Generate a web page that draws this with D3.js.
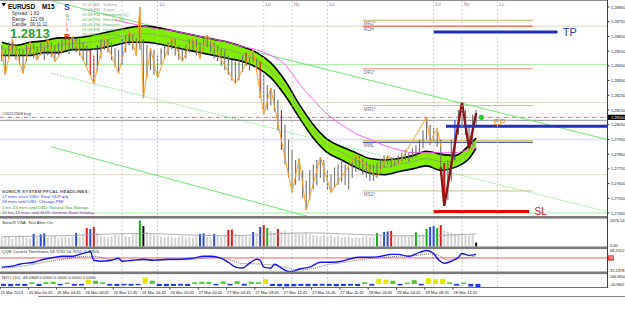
<!DOCTYPE html>
<html>
<head>
<meta charset="utf-8">
<script src="https://cdn.jsdelivr.net/npm/d3@7"></script>
<style>
body { margin: 0; background: #fff; }
svg { display: block; font-family: "Liberation Sans", Arial, sans-serif; }
</style>
</head>
<body>
<svg width="625" height="309"></svg>
<script>
// ---------- data ----------
var priceTicks = [1.2885, 1.2875, 1.2865, 1.2855, 1.2845, 1.2835, 1.2825, 1.2815, 1.2805, 1.2795, 1.2785, 1.2775, 1.2765, 1.2755, 1.2745];
var lastPrice = 1.2810;

var timeLabels = ["25 Mar 2013", "26 Mar 00:45", "26 Mar 04:45", "26 Mar 08:45", "26 Mar 12:45", "26 Mar 16:45", "26 Mar 20:45",
  "27 Mar 00:45", "27 Mar 04:45", "27 Mar 08:45", "27 Mar 12:45", "27 Mar 16:45", "27 Mar 20:45",
  "28 Mar 00:45", "28 Mar 04:45", "28 Mar 08:45", "28 Mar 12:45"];

var sessionTimes = ["26 Mar 10:00", "26 Mar 14:00", "26 Mar 19:00", "27 Mar 10:00", "27 Mar 14:00", "27 Mar 19:00", "28 Mar 10:00", "28 Mar 14:00", "28 Mar 19:00"];
var sessionNames = ["Lo", "Ny", "Lc", "Lo", "Ny", "Lc", "Lo", "Ny", "Lc"];

// 30 minute bars, index 0 = 25 Mar 21:00
var barHigh = [1.2859,1.2856,1.2861,1.2863,1.2859,1.2857,1.2856,1.2859,1.2861,1.2860,
  1.2858,1.2861,1.2860,1.2863,1.2861,1.2859,1.2861,1.2863,1.2864,1.2863,
  1.2865,1.2864,1.2863,1.2861,1.2859,1.2856,1.2852,1.2859,1.2863,1.2864,
  1.2863,1.2861,1.2857,1.2856,1.2863,1.2866,1.2869,1.2866,1.2864,1.2885,
  1.2863,1.2859,1.2857,1.2856,1.2852,1.2857,1.2859,1.2861,1.2864,1.2863,
  1.2859,1.2857,1.2859,1.2863,1.2864,1.2863,1.2861,1.2864,1.2866,1.2864,
  1.2861,1.2859,1.2857,1.2856,1.2852,1.2849,1.2848,1.2849,1.2852,1.2854,
  1.2852,1.2856,1.2850,1.2848,1.2839,1.2832,1.2830,1.2829,1.2822,1.2815,
  1.2805,1.2795,1.2788,1.2781,1.2782,1.2774,1.2767,1.2774,1.2778,1.2781,
  1.2783,1.2781,1.2774,1.2771,1.2776,1.2778,1.2781,1.2778,1.2776,1.2781,
  1.2784,1.2784,1.2782,1.2780,1.2778,1.2778,1.2779,1.2782,1.2784,1.2784,
  1.2783,1.2782,1.2784,1.2786,1.2788,1.2786,1.2789,1.2791,1.2795,1.2801,
  1.2810,1.2805,1.2803,1.2801,1.2795,1.2779,1.2781,1.2795,1.2808,1.2815,
  1.2820,1.2815,1.2805,1.2812,1.2815];
var barLow = [1.2848,1.2839,1.2850,1.2852,1.2849,1.2846,1.2840,1.2848,1.2852,1.2850,
  1.2849,1.2852,1.2849,1.2852,1.2851,1.2848,1.2852,1.2854,1.2856,1.2853,
  1.2856,1.2854,1.2852,1.2849,1.2845,1.2839,1.2833,1.2842,1.2850,1.2856,
  1.2854,1.2849,1.2844,1.2840,1.2846,1.2854,1.2859,1.2856,1.2852,1.2856,
  1.2823,1.2837,1.2842,1.2839,1.2837,1.2846,1.2850,1.2852,1.2856,1.2852,
  1.2849,1.2848,1.2850,1.2854,1.2856,1.2852,1.2850,1.2856,1.2858,1.2854,
  1.2850,1.2848,1.2845,1.2842,1.2839,1.2835,1.2833,1.2835,1.2841,1.2845,
  1.2842,1.2848,1.2841,1.2823,1.2812,1.2815,1.2818,1.2814,1.2801,1.2788,
  1.2778,1.2769,1.2759,1.2764,1.2767,1.2755,1.2747,1.2754,1.2761,1.2764,
  1.2769,1.2766,1.2761,1.2759,1.2762,1.2764,1.2766,1.2764,1.2761,1.2769,
  1.2773,1.2774,1.2771,1.2769,1.2767,1.2767,1.2769,1.2773,1.2776,1.2778,
  1.2776,1.2777,1.2778,1.2780,1.2781,1.2780,1.2782,1.2783,1.2786,1.2789,
  1.2795,1.2791,1.2793,1.2790,1.2771,1.2750,1.2754,1.2767,1.2781,1.2798,
  1.2805,1.2798,1.2789,1.2791,1.2805];
var barRed = [25, 26, 69, 73, 79, 125];
var barBlue = [27, 34, 36, 128];

var zigzagBar = [0,1,3,6,8,10,13,15,20,26,29,33,36,38,39,40,42,44,48,51,54,56,58,66,71,74,76,82,84,86,90,93,100,106,109,112,120,121,123,124];
var zigzagPrice = [1.2856,1.2839,1.2863,1.2840,1.2861,1.2849,1.2863,1.2848,1.2865,1.2833,1.2864,1.2840,1.2869,1.2852,1.2885,1.2823,1.2857,1.2837,1.2864,1.2848,
  1.2864,1.2850,1.2866,1.2833,1.2856,1.2812,1.2830,1.2759,1.2782,1.2747,1.2783,1.2759,1.2784,1.2769,1.2784,1.2778,1.2810,1.2793,1.2803,1.2790];
var swingBar = [124, 125, 130, 132, 134];
var swingPrice = [1.2776, 1.2750, 1.2820, 1.2789, 1.2813];

var ribbonBar = [0,4,8,12,16,20,24,28,32,36,40,44,48,52,56,60,64,68,72,76,80,84,88,92,96,100,104,108,112,116,120,124,128,132,134];
var ribbonHigh = [1.2861,1.2859,1.2861,1.2862,1.2864,1.2864,1.2865,1.2867,1.2869,1.2871,1.2872,1.2871,1.2869,1.2867,1.2865,1.2863,1.2861,1.2858,
  1.2854,1.2847,1.2835,1.2819,1.2805,1.2795,1.2790,1.2786,1.2782,1.2781,1.2782,1.2784,1.2787,1.2785,1.2784,1.2791,1.2796];
var ribbonLow = [1.2852,1.2852,1.2852,1.2854,1.2854,1.2856,1.2856,1.2857,1.2859,1.2861,1.2861,1.2860,1.2858,1.2856,1.2854,1.2852,1.2850,1.2848,
  1.2844,1.2837,1.2825,1.2810,1.2796,1.2786,1.2781,1.2776,1.2772,1.2771,1.2773,1.2775,1.2777,1.2774,1.2776,1.2782,1.2789];
var ribbonMid = [1.2857,1.2856,1.2857,1.2858,1.2859,1.2860,1.2861,1.2862,1.2864,1.2866,1.2867,1.2866,1.2864,1.2862,1.2860,1.2858,1.2856,1.2853,
  1.2849,1.2842,1.2830,1.2815,1.2801,1.2791,1.2786,1.2781,1.2777,1.2776,1.2778,1.2780,1.2782,1.2780,1.2780,1.2787,1.2793];

var slowMaBar = [32,36,40,44,48,52,56,60,64,68,72,76,80,84,88,92,96,100,104,108,112,116,120,124,128,132,134];
var slowMaPrice = [1.2876,1.2874,1.2872,1.2870,1.2869,1.2867,1.2865,1.2863,1.2861,1.2858,1.2856,1.2852,1.2846,1.2833,1.2822,1.2812,1.2805,1.2799,
  1.2795,1.2791,1.2788,1.2786,1.2786,1.2786,1.2786,1.2788,1.2789];

// horizontal levels
var dayLevels = [1.2872, 1.2846, 1.2820, 1.2795, 1.2771, 1.2745];
var orderPrice = 1.2810, bidPrice = 1.2808;
var pivotNames = ["MR2*", "RDH", "DR1*", "MR1*", "MML", "MS1*"];
var pivotPrices = [1.2876, 1.2872, 1.2843, 1.2818, 1.2793, 1.2760];
var midLinePrice = 1.2794;
var tradeNames = ["TP", "EP", "SL"];
var tradePrices = [1.2868, 1.2804, 1.2746];
var tradeFrom = ["28 Mar 10:00", "28 Mar 11:45", "28 Mar 10:00"];
var tradeTo = ["29 Mar 03:30", "29 Mar 12:00", "28 Mar 23:30"];
var tradeLabelAt = ["29 Mar 04:15", "28 Mar 18:30", "29 Mar 00:15"];
var signalTime = "28 Mar 16:45", signalPrice = 1.2810;

// trend channel: [from, to]
var trendTimes = [["26 Mar 02:30", "29 Mar 10:30"], ["26 Mar 04:00", "29 Mar 10:30"], ["26 Mar 04:00", "27 Mar 16:45"]];
var trendPrices = [[1.2891, 1.2795], [1.2840, 1.2746], [1.2790, 1.2742]];

// SonicR VSA volume per bar
var volume = [900,1100,1000,800,950,1200,1050,900,850,1300, 950,1250,1350,900,1000,1100,850,950,1000,900,
  1050,1400,1000,1150,1900,1800,2000,1400,1100,1000, 950,1050,1200,1150,1300,1100,1000,1250,1400,2676,
  2100,1500,1300,1200,1100,1000,950,1050,1000,900, 1000,1100,950,1000,900,1050,1300,1350,1000,950,
  1300,1100,1000,1200,1700,1750,1300,1200,1100,1050, 1000,1500,1200,2000,2200,1900,1600,1400,1800,1500,
  1600,1400,1500,1300,1350,1300,1400,1250,1200,1150, 1100,1200,1050,1150,1000,1100,950,1000,1050,900,
  950,900,1000,1050,950,1000,1400,1100,1500,1550, 1600,1100,1000,1050,1100,1000,1150,1450,1200,1250,
  1800,2000,2100,1900,2200,1700,1500,1400,1300,1250, 1350,1200,1150,1250,400];
var volBlue = [9,11,12,21,25,56,57,60,71,73,108,109,121,122];
var volRed = [24,26,64,65,74,78,110,124];
var volGreen = [39,75,106,117,120,123];
var volBlack = [40,134];
var volAvgBar = [0,8,16,24,32,40,48,56,64,72,80,88,96,104,112,120,128,134];
var volAvg = [1000,1050,1100,1200,1300,1350,1250,1150,1100,1200,1350,1400,1300,1200,1100,1100,1200,1300];

// QQE
var qqeBar = [0,3,5,9,12,15,17,20,22,24,25,26,28,31,33,34,37,40,43,47,50,54,57,59,62,64,66,68,70,72,
  73,74,76,77,79,81,82,84,87,90,93,96,98,101,104,107,110,112,115,118,120,122,123,125,127,129,130,132,134];
var qqeFast = [37.0,38.3,41.1,43.9,48.1,50.9,52.3,52.3,55.0,57.8,59.2,46.7,45.3,46.7,49.5,45.3,46.7,48.1,46.7,48.1,
  48.1,49.5,52.3,52.3,49.5,43.9,37.0,35.6,42.5,48.1,46.7,37.0,35.6,41.1,35.6,30.8,30.8,34.2,37.0,43.9,
  43.9,45.3,48.1,50.9,50.9,52.3,55.0,55.0,52.3,57.8,60.6,56.4,49.5,42.5,45.3,50.9,56.4,53.7,55.0];
var qqeSlowBar = [0,6,12,18,24,27,30,36,42,48,54,60,64,68,72,76,80,84,88,92,96,100,104,108,112,116,120,123,126,130,134];
var qqeSlow = [35.5,38.5,44.0,48.5,52.5,52.0,48.0,46.5,46.5,47.0,48.0,50.5,48.0,42.0,41.5,40.0,36.5,33.0,35.0,40.5,
  43.0,46.5,49.0,50.5,52.5,53.0,55.5,54.5,47.0,49.5,52.5];
var qqeLevel = 50;

// NVO per hour, index 0 = 25 Mar 20:45
var nvo = [-40,-45,-35,-40,30,-40,35,40,-30,25,-35,-30,80,60,30,-35,-40,-30,-35,-25,
  120,60,-40,-45,-40,-35,-40,30,40,35,-30,45,-30,50,-35,40,30,90,-40,-45,
  -50,-45,-40,-45,-40,-35,-40,-45,-40,-35,-40,30,-35,100,80,60,-30,25,70,-30,
  110,90,100,30,-35,25,-50,-60];

var clockTimes = ["12:48 AM", "10:48 PM", "09:48 PM", "03:48 PM", "02:48 PM", "01:48 PM", "08:48 AM"];
var clockCities = ["Sydney", "Tokyo", "Hongkong (L)", "Helsinki (B)", "Frankfurt", "London (O)", "NewYork"];
var headlines = ["17 mins since USD: Final GDP q/q", "58 mins until USD: Chicago PMI",
  "1 hrs 43 mins until USD: Natural Gas Storage", "15 hrs 13 mins until EUR: German Bank Holiday"];

// ---------- scales ----------
var svg = d3.select("svg");
var plotRight = 607;
var parseT = d3.timeParse("%Y %d %b %H:%M");
function T(s) { return parseT("2013 " + s); }
var t0 = new Date(2013, 2, 25, 20, 45);
function barTime(i) { return d3.timeMinute.offset(t0, i * 30 + 15); }

var x = d3.scaleTime().domain([t0, d3.timeHour.offset(t0, 72)]).range([0, 72 * 7.08]);
var y = d3.scaleLinear().domain([priceTicks[priceTicks.length - 1], priceTicks[0]]).range([213, 7]);
var yVol = d3.scaleLinear().domain([0, 2676.53]).range([246.5, 220.5]);
var yQqe = d3.scaleLinear().domain([30, 62]).range([272, 249.5]);
var yNvo = d3.scaleLinear().domain([-60, 170]).range([287, 275]);

var defs = svg.append("defs");
defs.append("clipPath").attr("id", "clipMain").append("rect")
  .attr("x", 0).attr("y", 1).attr("width", plotRight).attr("height", 215.5);
defs.append("clipPath").attr("id", "clipAll").append("rect")
  .attr("x", 0).attr("y", 0).attr("width", plotRight).attr("height", 288);

var main = svg.append("g").attr("clip-path", "url(#clipMain)");

// session lines across all panes
var sess = svg.append("g").attr("clip-path", "url(#clipAll)");
sess.selectAll("line").data(sessionTimes).enter().append("line")
  .attr("x1", function(d) { return x(T(d)); })
  .attr("x2", function(d) { return x(T(d)); })
  .attr("y1", 1).attr("y2", 287)
  .attr("stroke", "#c4c4c4").attr("stroke-width", 0.8).attr("stroke-dasharray", "2,2");

// full width day levels
var dayColor = ["#dcd8c4", "#a6f0a0", "#dcd8c4", "#e4e4f8", "#dcd8c4", "#a6f0a0"];
var dayWidth = [1, 1, 1, 2, 1, 1];
main.selectAll(".day").data(dayLevels).enter().append("line")
  .attr("x1", 0).attr("x2", plotRight)
  .attr("y1", function(d) { return y(d); }).attr("y2", function(d) { return y(d); })
  .attr("stroke", function(d, i) { return dayColor[i]; })
  .attr("stroke-width", function(d, i) { return dayWidth[i]; });

main.append("line").attr("x1", 0).attr("x2", plotRight)
  .attr("y1", y(bidPrice)).attr("y2", y(bidPrice))
  .attr("stroke", "#a8a8a8").attr("stroke-width", 1.3);
main.append("line").attr("x1", 0).attr("x2", plotRight)
  .attr("y1", y(orderPrice)).attr("y2", y(orderPrice))
  .attr("stroke", "#e05a5a").attr("stroke-width", 0.9).attr("stroke-dasharray", "4,1.5,1,1.5");

// trend channel
trendTimes.forEach(function(tt, k) {
  main.append("line")
    .attr("x1", x(T(tt[0]))).attr("y1", y(trendPrices[k][0]))
    .attr("x2", x(T(tt[1]))).attr("y2", y(trendPrices[k][1]))
    .attr("stroke", "#5ee65e").attr("stroke-width", 0.9)
    .attr("stroke-dasharray", k == 1 ? "1.5,1.5" : null);
});

// pivot lines for today
var pivotColor = { "MR2*": "#bdb76b", "RDH": "#ff3b2f", "DR1*": "#f38a78", "MR1*": "#c8c08c", "MML": "#3340d0", "MS1*": "#c8c08c" };
var pivFrom = x(T("28 Mar 00:00")), pivTo = x(T("29 Mar 00:00"));
main.selectAll(".piv").data(pivotPrices).enter().append("line")
  .attr("x1", pivFrom).attr("x2", pivTo)
  .attr("y1", function(d) { return y(d); }).attr("y2", function(d) { return y(d); })
  .attr("stroke", function(d, i) { return pivotColor[pivotNames[i]]; })
  .attr("stroke-width", 1);
main.append("line").attr("x1", pivFrom).attr("x2", pivTo)
  .attr("y1", y(midLinePrice)).attr("y2", y(midLinePrice))
  .attr("stroke", "#c8b400").attr("stroke-width", 1);
main.selectAll(".pivlab").data(pivotPrices).enter().append("text")
  .attr("x", pivFrom + 1).attr("y", function(d) { return y(d) + 5; })
  .attr("font-size", 4.6).attr("fill", "#707070")
  .text(function(d, i) { return pivotNames[i]; });

// SonicR dragon ribbon
var rib = d3.zip(ribbonBar, ribbonHigh, ribbonLow, ribbonMid);
main.append("path").datum(rib)
  .attr("d", d3.area().curve(d3.curveMonotoneX)
    .x(function(d) { return x(barTime(d[0])); })
    .y0(function(d) { return y(d[2]); })
    .y1(function(d) { return y(d[1]); }))
  .attr("fill", "#80f000");
main.append("path").datum(rib)
  .attr("d", d3.line().curve(d3.curveMonotoneX)
    .x(function(d) { return x(barTime(d[0])); }).y(function(d) { return y(d[3]); }))
  .attr("fill", "none").attr("stroke", "#8c9c8c").attr("stroke-width", 0.8);
[1, 2].forEach(function(k) {
  main.append("path").datum(rib)
    .attr("d", d3.line().curve(d3.curveMonotoneX)
      .x(function(d) { return x(barTime(d[0])); }).y(function(d) { return y(d[k]); }))
    .attr("fill", "none").attr("stroke", "#000").attr("stroke-width", 1.6);
});

// slow MA
main.append("path").datum(d3.zip(slowMaBar, slowMaPrice))
  .attr("d", d3.line().curve(d3.curveMonotoneX)
    .x(function(d) { return x(barTime(d[0])); }).y(function(d) { return y(d[1]); }))
  .attr("fill", "none").attr("stroke", "#ff50ff").attr("stroke-width", 0.9);

// price bars
main.selectAll(".bar").data(d3.range(barHigh.length)).enter().append("line")
  .attr("x1", function(i) { return x(barTime(i)); })
  .attr("x2", function(i) { return x(barTime(i)); })
  .attr("y1", function(i) { return y(barHigh[i]); })
  .attr("y2", function(i) { return y(barLow[i]); })
  .attr("stroke", function(i) {
    if (barRed.indexOf(i) >= 0) return "#d01010";
    if (barBlue.indexOf(i) >= 0) return "#2040e0";
    return "#707070";
  })
  .attr("stroke-width", function(i) { return i == 125 ? 2 : 1.1; });

// zigzag
main.append("path").datum(d3.zip(zigzagBar, zigzagPrice))
  .attr("d", d3.line().x(function(d) { return x(barTime(d[0])); }).y(function(d) { return y(d[1]); }))
  .attr("fill", "none").attr("stroke", "#ffa020").attr("stroke-width", 1);
main.append("path").datum(d3.zip(swingBar, swingPrice))
  .attr("d", d3.line().x(function(d) { return x(barTime(d[0])); }).y(function(d) { return y(d[1]); }))
  .attr("fill", "none").attr("stroke", "#8e1414").attr("stroke-width", 2.4).attr("stroke-linejoin", "miter");

// trade levels
var tradeColor = { "TP": "#2030b8", "EP": "#2030b8", "SL": "#e80000" };
var tradeLabelColor = { "TP": "#2a40c8", "EP": "#f08a20", "SL": "#e81010" };
var tradeFont = { "TP": 11, "EP": 9, "SL": 10 };
var tradeShift = { "TP": 4, "EP": -1.5, "SL": 3.6 };
tradeNames.forEach(function(n, k) {
  main.append("line")
    .attr("x1", x(T(tradeFrom[k]))).attr("x2", Math.min(plotRight, x(T(tradeTo[k]))))
    .attr("y1", y(tradePrices[k])).attr("y2", y(tradePrices[k]))
    .attr("stroke", tradeColor[n]).attr("stroke-width", 3);
  main.append("text")
    .attr("x", x(T(tradeLabelAt[k]))).attr("y", y(tradePrices[k]) + tradeShift[n])
    .attr("font-size", tradeFont[n]).attr("fill", tradeLabelColor[n])
    .text(n);
});
main.append("circle").attr("cx", x(T(signalTime))).attr("cy", y(signalPrice)).attr("r", 2.6)
  .attr("fill", "#1ed21e");

// order label
main.append("text").attr("x", 2).attr("y", y(orderPrice) - 2).attr("font-size", 4.2).attr("fill", "#404040")
  .text("#26222568 buy");

// session names on top
sess.selectAll("text").data(sessionTimes).enter().filter(function(d) { return x(T(d)) > 140; })
  .append("text")
  .attr("x", function(d) { return x(T(d)) + 2; }).attr("y", 6)
  .attr("font-size", 4.6).attr("fill", "#8a8a8a")
  .text(function(d) { return sessionNames[sessionTimes.indexOf(d)]; });

// ---------- info block ----------
var info = svg.append("g");
info.append("path").attr("d", "M1.5,3 L6,3 L3.75,6.5 Z").attr("fill", "#000");
info.append("text").attr("x", 8).attr("y", 9).attr("font-size", 7).attr("font-weight", "bold")
  .attr("textLength", 27).attr("lengthAdjust", "spacingAndGlyphs").text("EURUSD");
info.append("text").attr("x", 42).attr("y", 9).attr("font-size", 7).attr("font-weight", "bold")
  .attr("textLength", 12.5).attr("lengthAdjust", "spacingAndGlyphs").text("M15");
[["Spread", "1.80"], ["Range", "121.68"], ["Candle", "00:11:11"]].forEach(function(r, k) {
  info.append("text").attr("x", 12).attr("y", 15 + k * 5.6).attr("font-size", 4.6).attr("fill", "#303030").text(r[0]);
  info.append("text").attr("x", 30).attr("y", 15 + k * 5.6).attr("font-size", 4.6).attr("fill", "#303030").text(r[1]);
});
info.append("text").attr("x", 10).attr("y", 38).attr("font-size", 13).attr("font-weight", "bold")
  .attr("fill", "#2f9e2f").text("1.2813");
info.append("text").attr("x", 64).attr("y", 10).attr("font-size", 8.5).attr("font-weight", "bold").attr("fill", "#1f3fc0").text("S");
[["o", "#3a9a3a"], ["n", "#9a9a9a"], ["i", "#d03030"], ["c", "#d03030"]].forEach(function(r, k) {
  info.append("text").attr("x", 66).attr("y", 16.5 + k * 4.8).attr("font-size", 5).attr("fill", r[1]).text(r[0]);
});
info.append("text").attr("x", 64).attr("y", 40).attr("font-size", 8.5).attr("font-weight", "bold").attr("fill", "#e01a1a").text("R");
clockTimes.forEach(function(t, k) {
  var c = k < 2 ? "#a4a4a4" : "#62b862";
  info.append("text").attr("x", 82).attr("y", 5.8 + k * 5).attr("font-size", 4.2).attr("fill", c).text(t);
  info.append("text").attr("x", 103).attr("y", 5.8 + k * 5).attr("font-size", 4.2).attr("fill", c).text(clockCities[k]);
});

// headlines
svg.append("text").attr("x", 2).attr("y", 192.5).attr("font-size", 4.4).attr("font-weight", "bold")
  .attr("fill", "#505050").attr("letter-spacing", 0.25).text("SONICR SYSTEM FFCAL HEADLINES:");
var headColor = ["#3636e8", "#3636e8", "#2fa02f", "#a030c8"];
headlines.forEach(function(h, k) {
  svg.append("text").attr("x", 2).attr("y", 198 + k * 5.3).attr("font-size", 4.3).attr("fill", headColor[k]).text(h);
});

// ---------- VSA pane ----------
var vsa = svg.append("g");
vsa.selectAll("rect").data(d3.range(volume.length)).enter().append("rect")
  .attr("x", function(i) { return x(barTime(i)) - 1; })
  .attr("width", 2)
  .attr("y", function(i) { return yVol(volume[i]); })
  .attr("height", function(i) { return yVol(0) - yVol(volume[i]); })
  .attr("fill", function(i) {
    if (volBlue.indexOf(i) >= 0) return "#2a46e8";
    if (volRed.indexOf(i) >= 0) return "#e01818";
    if (volGreen.indexOf(i) >= 0) return "#12b012";
    if (volBlack.indexOf(i) >= 0) return "#000";
    return "#d2d2d2";
  });
vsa.append("path").datum(d3.zip(volAvgBar, volAvg))
  .attr("d", d3.line().curve(d3.curveMonotoneX)
    .x(function(d) { return x(barTime(d[0])); }).y(function(d) { return yVol(d[1]); }))
  .attr("fill", "none").attr("stroke", "#9a9a9a").attr("stroke-width", 0.8);
vsa.append("text").attr("x", 2).attr("y", 223.8).attr("font-size", 4.3).attr("fill", "#303030").text("SonicR VSA");
vsa.append("text").attr("x", 28).attr("y", 223.8).attr("font-size", 4.3).attr("fill", "#303030").text("Test Alert On.");

// ---------- QQE pane ----------
var qqe = svg.append("g");
qqe.append("line").attr("x1", 0).attr("x2", plotRight).attr("y1", yQqe(qqeLevel)).attr("y2", yQqe(qqeLevel))
  .attr("stroke", "#f03a3a").attr("stroke-width", 0.8);
qqe.append("path").datum(d3.zip(qqeSlowBar, qqeSlow))
  .attr("d", d3.line().curve(d3.curveMonotoneX)
    .x(function(d) { return x(barTime(d[0])); }).y(function(d) { return yQqe(d[1]); }))
  .attr("fill", "none").attr("stroke", "#505050").attr("stroke-width", 0.8).attr("stroke-dasharray", "1,1");
qqe.append("path").datum(d3.zip(qqeBar, qqeFast))
  .attr("d", d3.line().curve(d3.curveMonotoneX)
    .x(function(d) { return x(barTime(d[0])); }).y(function(d) { return yQqe(d[1]); }))
  .attr("fill", "none").attr("stroke", "#1414f0").attr("stroke-width", 1.4);
qqe.append("text").attr("x", 2).attr("y", 252.8).attr("font-size", 4.3).attr("fill", "#303030")
  .text("QQE Current Timeframe 58.7292 54.7052 (1.4960)");

// ---------- NVO pane ----------
var nv = svg.append("g");
nv.selectAll("rect").data(nvo).enter().append("rect")
  .attr("x", function(d, h) { return x(d3.timeMinute.offset(t0, h * 60 + 30)) - 2.5; })
  .attr("width", 5)
  .attr("y", function(d) { return yNvo(Math.max(0, d)); })
  .attr("height", function(d) { return Math.abs(yNvo(d) - yNvo(0)); })
  .attr("fill", function(d) { return d >= 75 ? "#e6e600" : (d > 0 ? "#44cc22" : "#2238f0"); });
nv.append("text").attr("x", 2).attr("y", 279).attr("font-size", 4.3).attr("fill", "#303030")
  .text("NVO (10) -48.0968 0.0000 0.0000 0.0000 0.0000");

// ---------- frame, separators, axes ----------
svg.append("line").attr("x1", 0).attr("x2", plotRight).attr("y1", 0.5).attr("y2", 0.5).attr("stroke", "#909090");
[217.5, 248, 273].forEach(function(sy) {
  svg.append("rect").attr("x", 0).attr("y", sy - 1.5).attr("width", plotRight).attr("height", 2.6).attr("fill", "#7a7a7a");
});
svg.append("line").attr("x1", 0).attr("x2", plotRight).attr("y1", 287.5).attr("y2", 287.5).attr("stroke", "#6a6a6a");
svg.append("line").attr("x1", plotRight + 0.5).attr("x2", plotRight + 0.5).attr("y1", 0).attr("y2", 288).attr("stroke", "#404040");
svg.append("line").attr("x1", 38).attr("x2", 625).attr("y1", 296.5).attr("y2", 296.5).attr("stroke", "#8a8a8a");

// price axis
var pa = svg.append("g");
pa.selectAll("line").data(priceTicks).enter().append("line")
  .attr("x1", plotRight).attr("x2", plotRight + 2.5)
  .attr("y1", function(d) { return y(d); }).attr("y2", function(d) { return y(d); })
  .attr("stroke", "#404040");
pa.selectAll("text").data(priceTicks).enter().append("text")
  .attr("x", 611).attr("y", function(d) { return y(d) + 1.5; })
  .attr("font-size", 4).attr("fill", "#202020")
  .text(d3.format(".5f"));
pa.append("rect").attr("x", 608).attr("y", y(lastPrice) - 2.6).attr("width", 17).attr("height", 5.2).attr("fill", "#000");
pa.append("text").attr("x", 611).attr("y", y(lastPrice) + 1.5).attr("font-size", 4).attr("fill", "#fff")
  .text(d3.format(".5f")(lastPrice));

// sub pane labels
function sideLabel(txt, yy, color, bg, fs) {
  if (bg) pa.append("rect").attr("x", 608).attr("y", yy - 2.6).attr("width", 6).attr("height", 5.2).attr("fill", bg);
  pa.append("text").attr("x", bg ? 609 : 610).attr("y", yy + 1.5).attr("font-size", fs || 4).attr("fill", color).text(txt);
}
sideLabel("2676.53", yVol(2676.53), "#202020");
sideLabel("0.00", yVol(0) - 1, "#202020");
sideLabel("68.2312", 250.8, "#202020");
sideLabel("32.2378", 270.5, "#202020");
sideLabel("50", yQqe(qqeLevel), "#fff", "#ff3030");
sideLabel("166.9650", 276.5, "#202020", null, 3.6);
sideLabel("-56.9802", 284.3, "#202020", null, 3.6);

// time axis
var ta = svg.append("g");
timeLabels.forEach(function(s) {
  var t = s.indexOf("2013") >= 0 ? t0 : T(s);
  ta.append("line").attr("x1", x(t)).attr("x2", x(t)).attr("y1", 287.5).attr("y2", 289.5).attr("stroke", "#404040");
  ta.append("text").attr("x", x(t) + 0.5).attr("y", 293.5).attr("font-size", 4).attr("fill", "#202020").text(s);
});
</script>
</body>
</html>
